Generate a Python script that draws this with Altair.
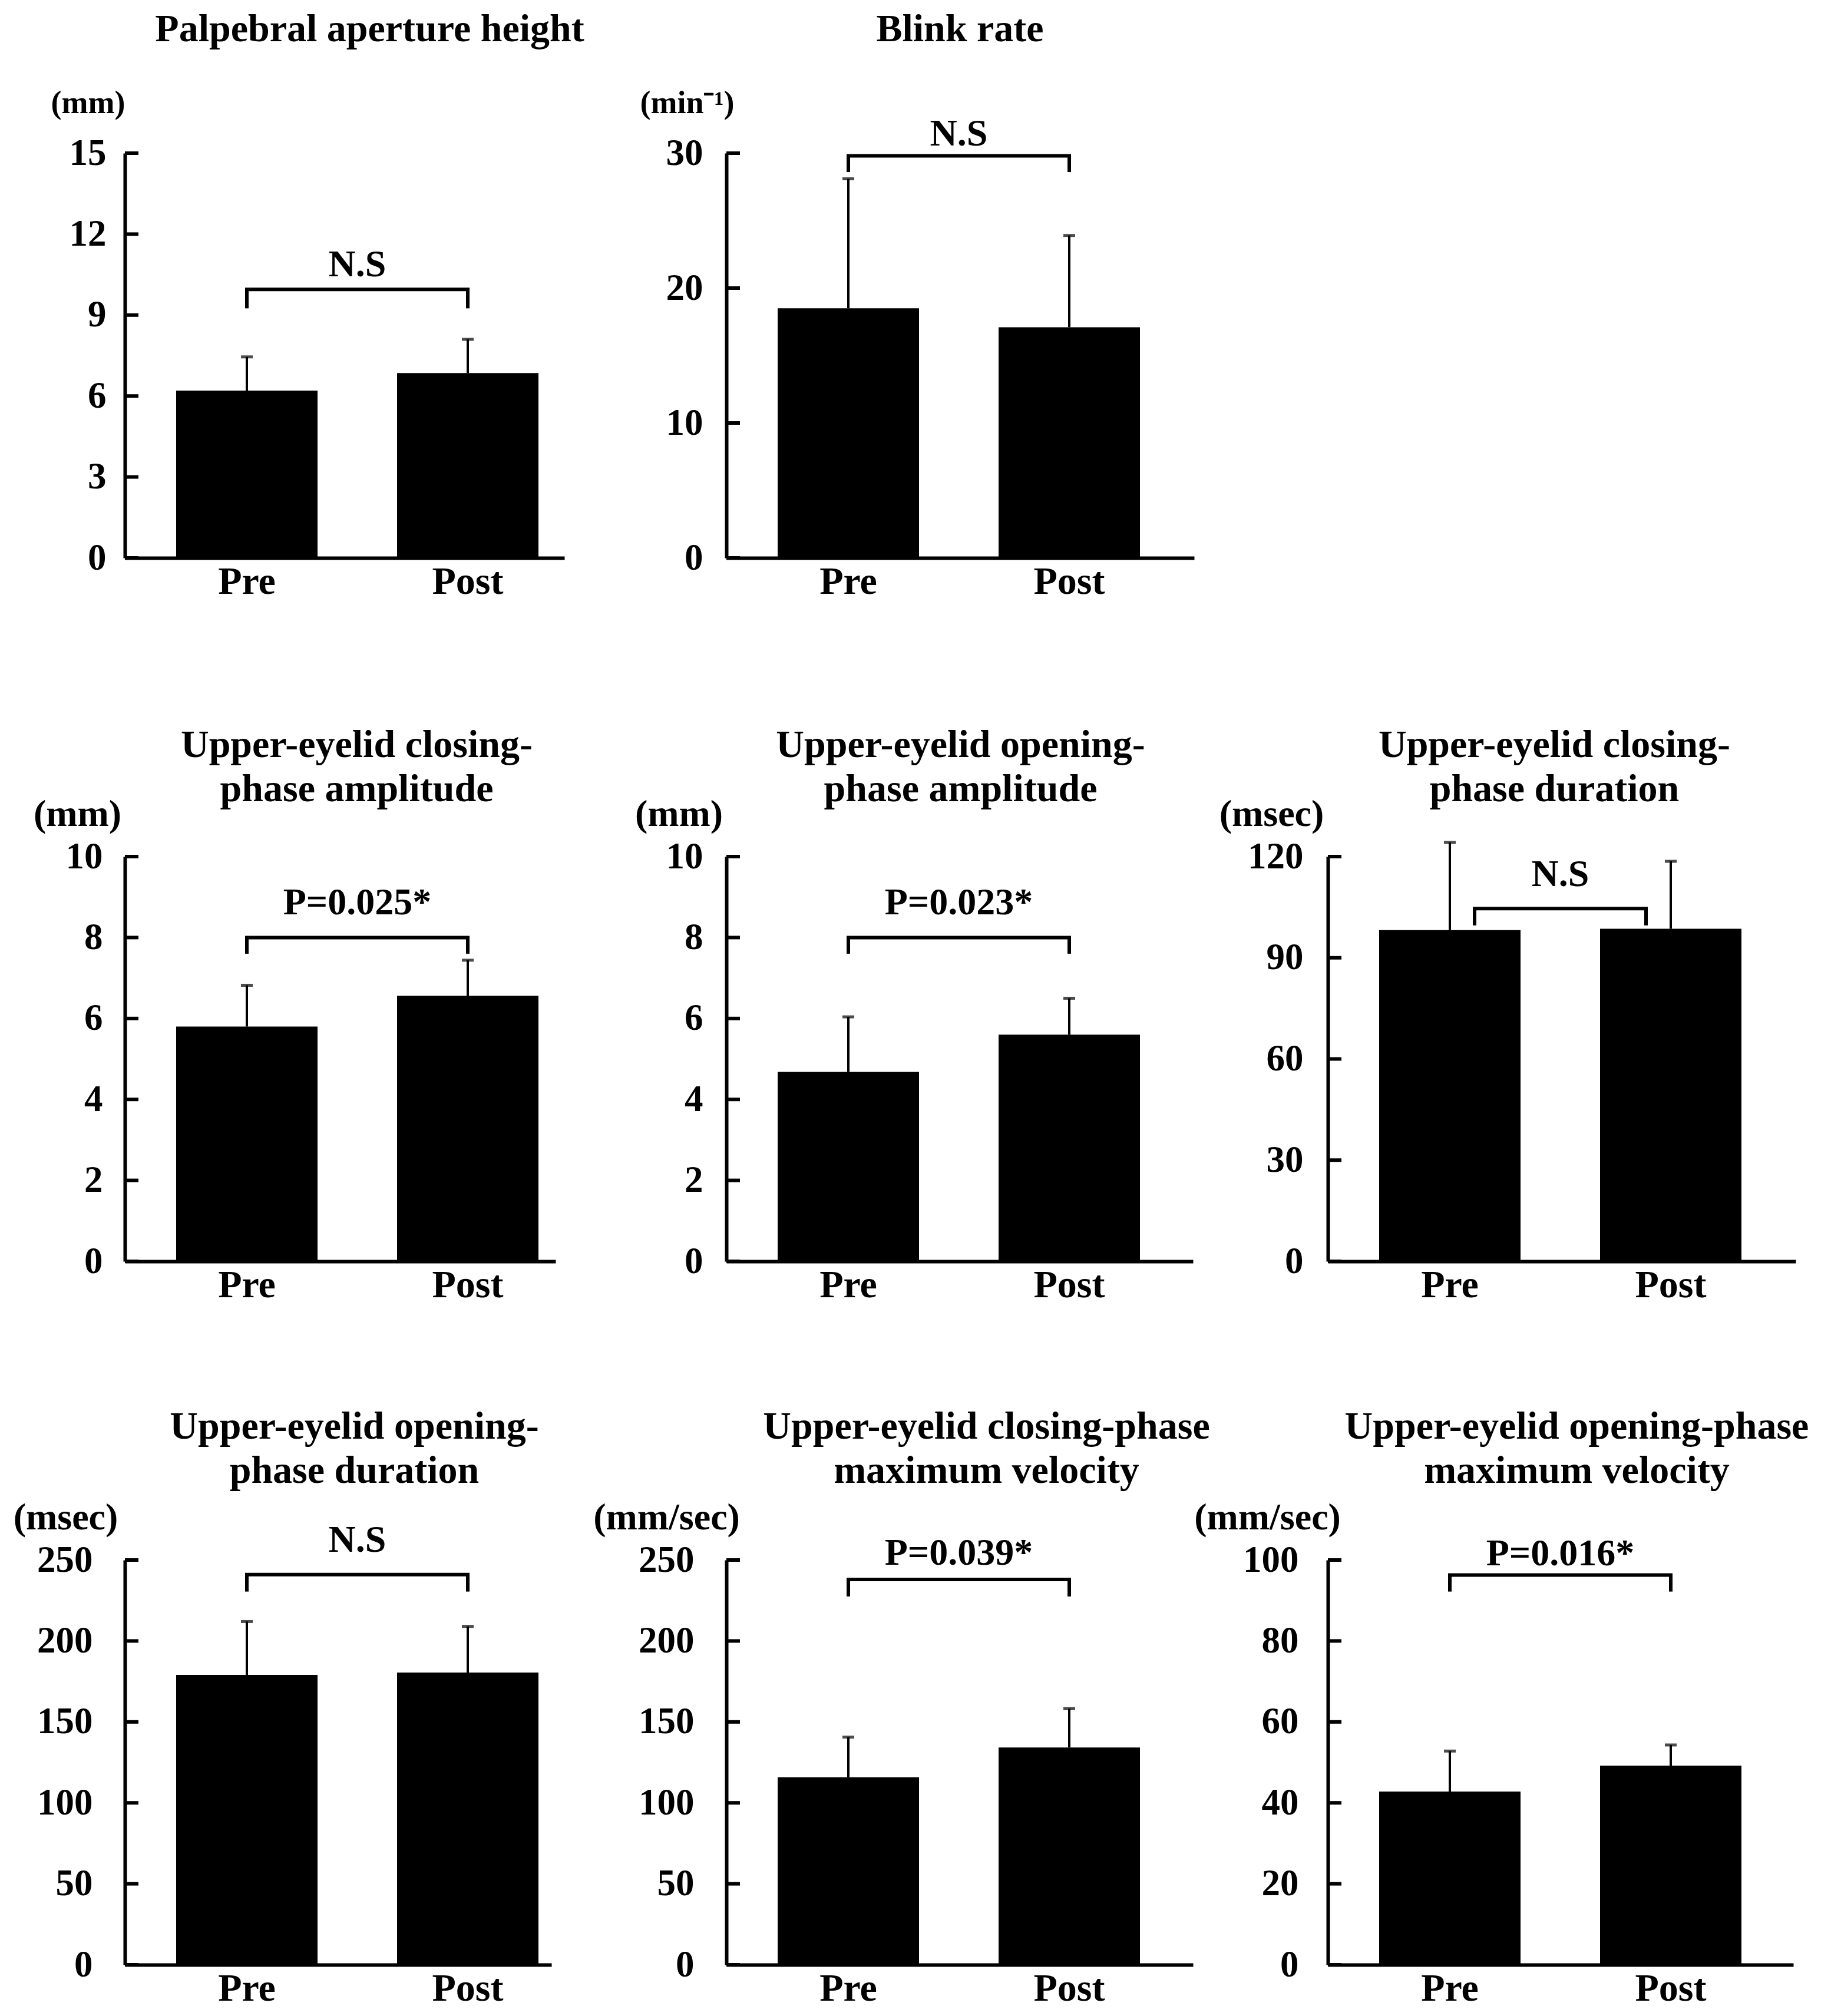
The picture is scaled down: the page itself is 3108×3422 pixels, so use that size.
import altair as alt
import pandas as pd

FONT = "Liberation Serif"

groups = ["Pre", "Post"]
titles = [
    ["Palpebral aperture height"],
    ["Blink rate"],
    ["Upper-eyelid closing-", "phase amplitude"],
    ["Upper-eyelid opening-", "phase amplitude"],
    ["Upper-eyelid closing-", "phase duration"],
    ["Upper-eyelid opening-", "phase duration"],
    ["Upper-eyelid closing-phase", "maximum velocity"],
    ["Upper-eyelid opening-phase", "maximum velocity"],
]
units = ["(mm)", "(min\u207b\u00b9)", "(mm)", "(mm)", "(msec)", "(msec)", "(mm/sec)", "(mm/sec)"]
y_ticks = [
    [0, 3, 6, 9, 12, 15],
    [0, 10, 20, 30],
    [0, 2, 4, 6, 8, 10],
    [0, 2, 4, 6, 8, 10],
    [0, 30, 60, 90, 120],
    [0, 50, 100, 150, 200, 250],
    [0, 50, 100, 150, 200, 250],
    [0, 20, 40, 60, 80, 100],
]
pre_mean = [6.2, 18.5, 5.8, 4.68, 98.2, 179.0, 115.8, 42.8]
pre_sd = [1.25, 9.6, 1.02, 1.36, 26.0, 33.0, 24.8, 10.0]
post_mean = [6.85, 17.1, 6.56, 5.6, 98.6, 180.5, 134.2, 49.2]
post_sd = [1.25, 6.8, 0.88, 0.9, 20.0, 28.5, 24.0, 5.1]
bracket_top = [9.95, 29.8, 8.0, 8.0, 104.6, 241.0, 238.0, 96.3]
bracket_leg = [9.25, 28.6, 7.6, 7.6, 99.6, 230.5, 227.5, 92.2]
stat_labels = ["N.S", "N.S", "P=0.025*", "P=0.023*", "N.S", "N.S", "P=0.039*", "P=0.016*"]
stat_y = [10.85, 31.4, 8.85, 8.85, 114.5, 262.0, 254.0, 101.5]

# layout / style (pixels)
H = 687
CELL_W = 793
STEP, BAR, GAP = 375, 240, 87
layout = [
    dict(ax=746, tdx=19, toff=64, udx=-63, udy=-85, us=54, inset=0, lp=32),
    dict(ax=794, tdx=0, toff=64, udx=-67, udy=-85, us=54, inset=0, lp=40),
    dict(ax=731, tdx=-3, toff=-24, udx=-81, udy=-72, us=64, inset=0, lp=38),
    dict(ax=792, tdx=1, toff=-24, udx=-81, udy=-72, us=64, inset=0, lp=40),
    dict(ax=794, tdx=-12, toff=-24, udx=-96, udy=-72, us=64, inset=42, lp=42),
    dict(ax=724, tdx=-7, toff=13, udx=-101, udy=-72, us=64, inset=0, lp=55),
    dict(ax=792, tdx=45, toff=13, udx=-102, udy=-72, us=64, inset=0, lp=55),
    dict(ax=790, tdx=26, toff=13, udx=-103, udy=-72, us=64, inset=0, lp=50),
]


def xscale(A):
    pi = 1 - BAR / STEP
    po = (A / STEP - (2 - pi)) / 2
    al = GAP / (2 * po * STEP)
    return alt.Scale(domain=groups, range=[0, A], paddingInner=pi, paddingOuter=po, align=al)


def panel(i):
    L = layout[i]
    xs = xscale(L["ax"])
    ys = alt.Scale(domain=[0, y_ticks[i][-1]], nice=False, zero=True)
    df = pd.DataFrame({
        "group": groups,
        "mean": [pre_mean[i], post_mean[i]],
        "sd": [pre_sd[i], post_sd[i]],
    })
    df["top"] = df["mean"] + df["sd"]

    x_axis = alt.Axis(title=None, labelAngle=0, ticks=False, tickSize=0,
                      labelFont=FONT, labelFontSize=66, labelFontWeight="bold",
                      labelColor="black", labelPadding=8, domainColor="black",
                      domainWidth=6, grid=False)
    y_axis = alt.Axis(values=y_ticks[i], title=units[i], titleAngle=0,
                      titleAlign="center", titleBaseline="middle",
                      titleX=L["udx"], titleY=L["udy"], titleFont=FONT,
                      titleFontSize=L["us"], titleFontWeight="bold", titleColor="black",
                      labelFont=FONT, labelFontSize=63, labelFontWeight="bold",
                      labelColor="black", labelPadding=L["lp"], ticks=False, tickSize=0,
                      domainColor="black", domainWidth=6, grid=False,
                      labelOverlap=False, format="d")

    def X(f):
        return alt.X(f, scale=xs, sort=groups, axis=x_axis)

    def Y(f):
        return alt.Y(f, scale=ys, axis=y_axis)

    base = alt.Chart(df)
    bars = base.mark_bar(color="black").encode(x=X("group:N"), y=Y("mean:Q"))
    err = base.mark_rule(color="black", strokeWidth=4).encode(
        x=X("group:N"), y=Y("mean:Q"), y2="top:Q")
    cap = base.mark_tick(color="black", size=20, thickness=5, orient="horizontal").encode(
        x=X("group:N"), y=Y("top:Q"))
    tdf = pd.DataFrame({"v": y_ticks[i]})
    inticks = alt.Chart(tdf).mark_rule(color="black", strokeWidth=6).encode(
        y=Y("v:Q"), x=alt.value(0), x2=alt.value(23))
    inset = L["inset"]
    bdf = pd.DataFrame({"group": groups, "leg": [bracket_leg[i]] * 2, "top": [bracket_top[i]] * 2})
    legl = alt.Chart(bdf.iloc[[0]]).mark_rule(color="black", strokeWidth=6, xOffset=inset).encode(
        x=X("group:N"), y=Y("leg:Q"), y2="top:Q")
    legr = alt.Chart(bdf.iloc[[1]]).mark_rule(color="black", strokeWidth=6, xOffset=-inset).encode(
        x=X("group:N"), y=Y("leg:Q"), y2="top:Q")
    hdf = pd.DataFrame({"a": [groups[0]], "b": [groups[1]], "top": [bracket_top[i]]})
    hline = alt.Chart(hdf).mark_rule(color="black", strokeWidth=6, xOffset=inset - 3,
                                     x2Offset=-inset + 3).encode(
        x=X("a:N"), x2="b:N", y=Y("top:Q"))
    sdf = pd.DataFrame({"a": [groups[0]], "y": [stat_y[i]], "label": [stat_labels[i]]})
    stat = alt.Chart(sdf).mark_text(font=FONT, fontSize=64, fontWeight="bold", color="black",
                                    dx=STEP / 2, baseline="middle", align="center").encode(
        x=X("a:N"), y=Y("y:Q"), text="label:N")

    return alt.layer(bars, err, cap, inticks, legl, legr, hline, stat).properties(
        width=CELL_W, height=H,
        title=alt.TitleParams(text=titles[i], font=FONT, fontSize=66, fontWeight="bold",
                              color="black", anchor="middle", frame="group",
                              dx=L["tdx"], offset=L["toff"], lineHeight=75),
    )


p = [panel(i) for i in range(8)]
blank = alt.Chart(pd.DataFrame({"v": [0]})).mark_point(opacity=0).encode(
    x=alt.value(0), y=alt.value(0)).properties(width=CELL_W, height=H)
cells = [p[0], p[1], blank] + p[2:]
chart = alt.concat(*cells, columns=3, bounds="flush",
                   spacing={"row": 507, "column": 228}).properties(
    padding={"left": 14, "top": 9, "right": 5, "bottom": 5}
).configure_view(strokeWidth=0)

chart.save("out.html", embed_options={"renderer": "svg", "actions": False})
